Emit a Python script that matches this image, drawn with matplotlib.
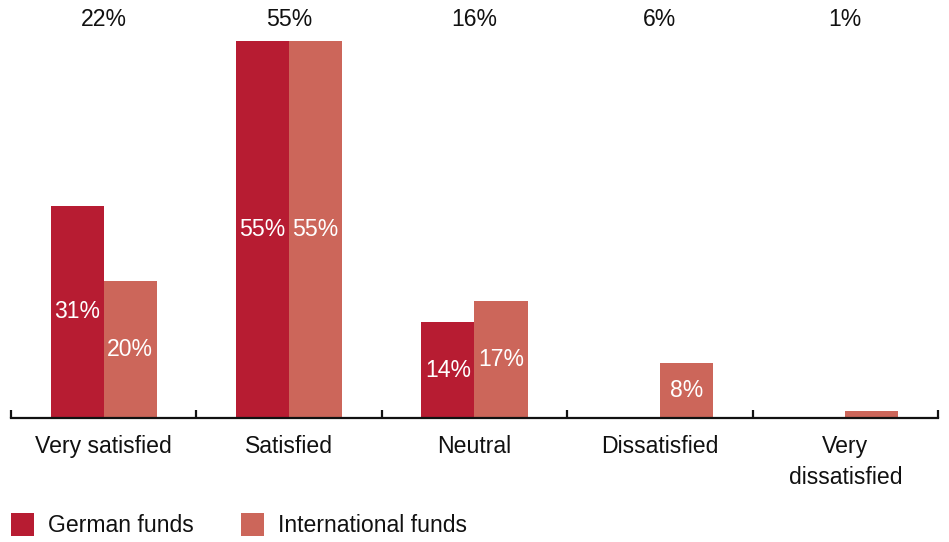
import matplotlib
matplotlib.use("Agg")
import matplotlib.pyplot as plt
from matplotlib.patches import Rectangle
from matplotlib.transforms import blended_transform_factory
import numpy as np

plt.rcParams["font.family"] = ["Liberation Sans", "DejaVu Sans"]

categories = ["Very satisfied", "Satisfied", "Neutral", "Dissatisfied", "Very\ndissatisfied"]
german = [31, 55, 14, 0, 0]
international = [20, 55, 17, 8, 1]
overall = [22, 55, 16, 6, 1]

c_german = "#B71C32"
c_intl = "#CC665A"
fs = 16.6

W, H = 949, 542
fig = plt.figure(figsize=(W / 100, H / 100), dpi=100)
fig.patch.set_facecolor("white")
ax = fig.add_axes([11 / W, 124 / H, 927 / W, 377 / H])

x = np.arange(len(categories))
bw = 0.286
b1 = ax.bar(x - bw / 2, german, bw, color=c_german, linewidth=0)
b2 = ax.bar(x + bw / 2, international, bw, color=c_intl, linewidth=0)

ax.set_xlim(-0.5, len(categories) - 0.5)
ax.set_ylim(0, 55)

for bars, vals in ((b1, german), (b2, international)):
    for rect, v in zip(bars, vals):
        if v >= 5:
            ax.text(rect.get_x() + rect.get_width() / 2, v / 2, f"{v}%",
                    ha="center", va="center", color="white", fontsize=fs)

# overall share above each group
top = blended_transform_factory(ax.transData, fig.transFigure)
for xi, v in zip(x, overall):
    ax.text(xi, 1 - 19 / H, f"{v}%", transform=top, ha="center", va="center",
            fontsize=fs, color="#111111")

# category labels below the axis
for xi, lab in zip(x, categories):
    ax.text(xi, 1 - 435 / H, lab, transform=top, ha="center", va="top",
            fontsize=fs, color="#111111", linespacing=1.42)

for s in ("top", "right", "left"):
    ax.spines[s].set_visible(False)
ax.spines["bottom"].set_linewidth(1.6)
ax.spines["bottom"].set_color("#111111")
ax.set_yticks([])
ax.set_xticks(np.arange(-0.5, len(categories)))
ax.set_xticklabels([])
ax.tick_params(axis="x", direction="in", length=6, width=1.6, color="#111111")

# legend
for px, label, col in ((11, "German funds", c_german), (241, "International funds", c_intl)):
    fig.add_artist(Rectangle((px / W, 1 - 536 / H), 23 / W, 23 / H,
                             transform=fig.transFigure, color=col, lw=0))
    fig.text((px + 37) / W, 1 - 525 / H, label, ha="left", va="center",
             fontsize=fs, color="#111111")

fig.savefig("out.png", dpi=100, facecolor="white")
